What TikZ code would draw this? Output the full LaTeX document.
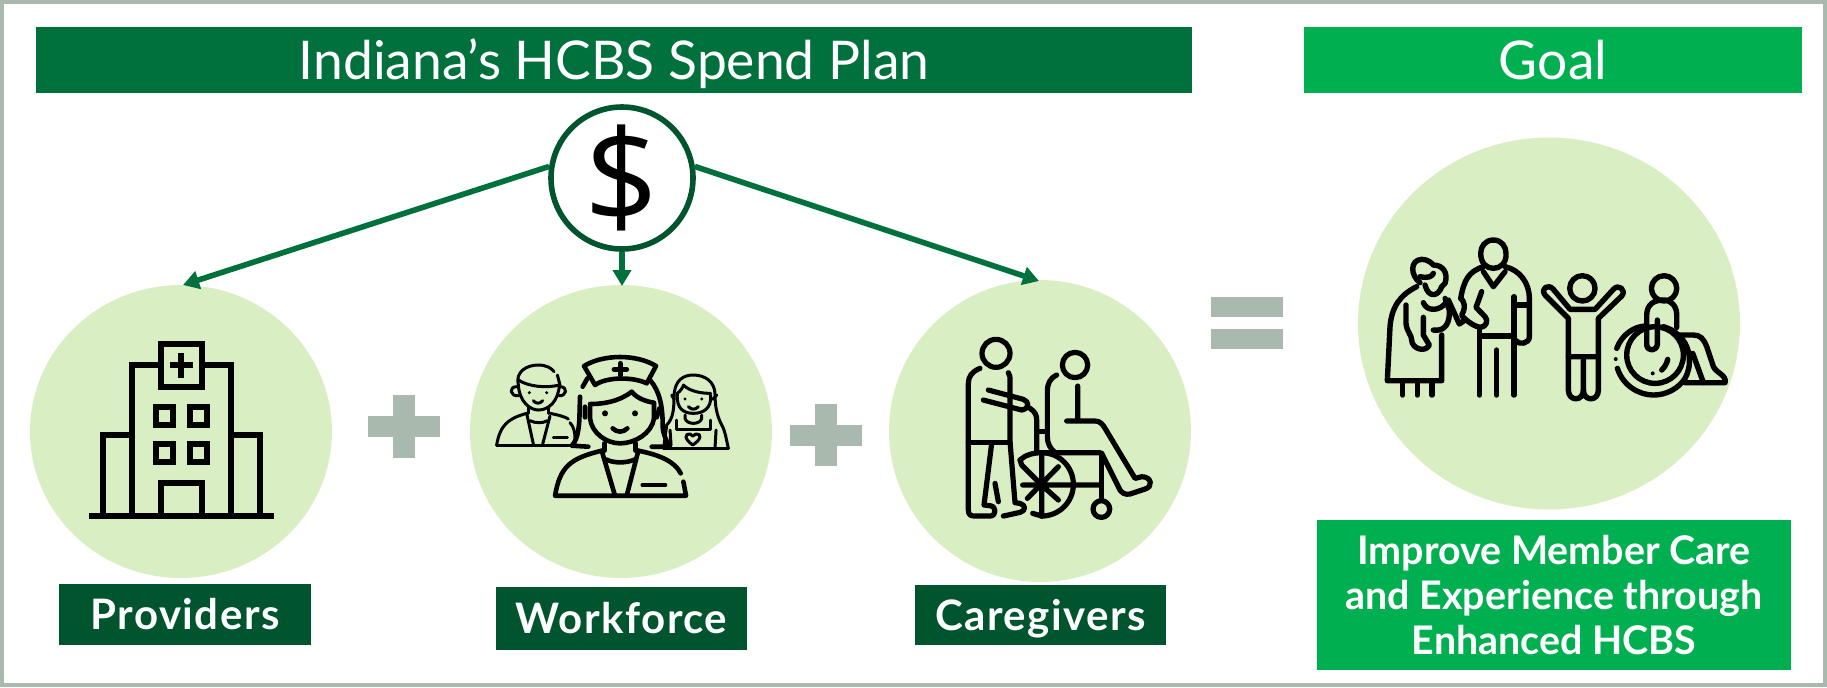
\documentclass[tikz,border=0pt]{standalone}
\usepackage{fontspec}
\setmainfont{Lato}
\newfontfamily\dollarfont{Open Sans}
\definecolor{bord}{HTML}{A9B9AD}
\definecolor{titleg}{HTML}{00713D}
\definecolor{goalg}{HTML}{00B050}
\definecolor{darkg}{HTML}{00552E}
\definecolor{lightg}{HTML}{DAEEC3}
\tikzset{
 blob/.style={ellipse,fill=lightg,inner sep=0pt},
 titlebar/.style={fill=titleg,text=white,inner sep=0pt,text height=19.5pt,text depth=0pt,font=\fontsize{26.7}{30}\selectfont},
 goalbar/.style={fill=goalg,text=white,inner sep=0pt,text height=19.5pt,text depth=0pt,font=\fontsize{26.7}{30}\selectfont},
 labelbox/.style={fill=darkg,text=white,inner sep=0pt,text height=15pt,text depth=0pt,font=\fontsize{21}{24}\bfseries\addfontfeature{LetterSpace=3.5}\selectfont},
 conn/.style={draw=titleg,line width=2.8pt,-{Triangle[length=8pt,width=9pt]}},
 icon/.style={line width=#1,line cap=round,line join=round,draw=black},
 op/.style={fill=bord,inner sep=0pt},
}
\usetikzlibrary{arrows.meta,shapes.geometric}
\begin{document}
\begin{tikzpicture}[x=0.5pt,y=-0.5pt]
\useasboundingbox (0,0) rectangle (1827,687);
\node[draw=bord,line width=2pt,minimum width=911.5pt,minimum height=341.5pt,inner sep=0pt,anchor=center] (frame) at (913.5,343.5) {};
\node[titlebar,minimum width=578pt,minimum height=33pt] (title) at (614,60) {Indiana’s HCBS Spend Plan};
\node[goalbar,minimum width=249pt,minimum height=33pt] (goal) at (1553,60) {Goal};
\node[blob,minimum width=151pt,minimum height=146.5pt] (prov) at (181,431.5) {};
\node[blob,minimum width=151pt,minimum height=146.5pt] (work) at (621,431.5) {};
\node[blob,minimum width=151pt,minimum height=151pt] (care) at (1040,431) {};
\node[blob,minimum width=191pt,minimum height=186pt] (gcirc) at (1549,323.5) {};
\node[circle,draw=darkg,fill=white,line width=2.8pt,minimum size=71pt,inner sep=0pt,font=\dollarfont\fontsize{65}{70}\selectfont] (dollar) at (622,178) {\$};
\coordinate (tipL) at (183,285);
\coordinate (tipM) at (622,286);
\coordinate (tipR) at (1039,281);
\draw[conn] (dollar.171) -- (tipL);
\draw[conn] (dollar.south) -- (tipM);
\draw[conn] (dollar.9) -- (tipR);
\node[labelbox,minimum width=126pt,minimum height=30.5pt] (lprov) at (185,614.5) {Providers};
\node[labelbox,minimum width=125.5pt,minimum height=31.5pt] (lwork) at (621.5,618) {Workforce};
\node[labelbox,minimum width=125.5pt,minimum height=30pt] (lcare) at (1040.5,615) {Caregivers};
\node[fill=goalg,text=white,minimum width=237pt,minimum height=75pt,inner sep=0pt,align=center,font=\fontsize{19.7}{22.5}\bfseries\selectfont] (lgoal) at (1554,595) {Improve Member Care\\and Experience through\\Enhanced HCBS};
\node[op,minimum width=36pt,minimum height=10.5pt] (p1a) at (404,426) {};
\node[op,minimum width=11pt,minimum height=31.5pt] (p1b) at (404,426) {};
\node[op,minimum width=36pt,minimum height=10.5pt] (p2a) at (826,435) {};
\node[op,minimum width=11pt,minimum height=31pt] (p2b) at (826,435) {};
\node[op,minimum width=36pt,minimum height=10pt] (e1) at (1247,307) {};
\node[op,minimum width=36pt,minimum height=10pt] (e2) at (1247,339) {};
% hospital
\begin{scope}[shift={(60,300)},x=0.1667pt,y=-0.1667pt,icon=3pt,line cap=butt,line join=miter]
\draw (304,132) rectangle (425,260);
\draw[line width=3pt] (330,196)--(399,196) (364,160)--(364,233);
\draw (217,640)--(217,195)--(304,195) (425,195)--(512,195)--(512,640);
\draw (130,640)--(130,404)--(217,404) (512,404)--(599,404)--(599,640);
\draw (287,322) rectangle (338,376) (391,322) rectangle (442,376) (287,431) rectangle (338,485) (391,431) rectangle (442,485);
\draw (304,640)--(304,549)--(425,549)--(425,640);
\draw[line width=3pt] (87,649)--(642,649);
\end{scope}
% workforce
\begin{scope}[shift={(470,330)},x=0.1667pt,y=-0.1667pt,icon=2.3pt]
\draw (342,108) .. controls (400,72) and (500,72) .. (558,108) -- (530,160) .. controls (490,140) and (410,140) .. (375,165) -- cycle;
\draw[line width=2.4pt] (432,118)--(470,118) (451,100)--(451,136);
\draw (338,170)--(352,145) (330,200)--(328,270) .. controls (326,300) and (322,330) .. (305,347) -- (355,350);
\draw (540,150) .. controls (570,185) and (578,230) .. (578,290) .. controls (578,310) and (590,335) .. (600,350) -- (545,350);
\draw (360,230) -- (360,265) .. controls (365,310) and (410,340) .. (450,340) .. controls (495,340) and (545,310) .. (552,265) -- (552,220);
\draw (360,222) .. controls (420,222) and (460,205) .. (485,185) .. controls (500,205) and (530,215) .. (552,218);
\draw (345,230)--(345,262) (568,235)--(560,262);
\fill (405,250) circle (9) (495,250) circle (9);
\draw (428,295) .. controls (440,308) and (460,308) .. (472,295);
\draw (403,340)--(403,362) (497,340)--(497,362);
\draw (395,362)--(435,497) (505,362)--(470,497);
\draw (408,388) .. controls (430,400) and (470,400) .. (495,388);
\draw (395,362) .. controls (300,385) and (270,410) .. (255,497) -- (648,497) -- (640,455);
\draw (505,362) .. controls (570,375) and (615,395) .. (632,430);
\draw (518,465)--(585,465);
% left man
\begin{scope}[line width=1.5pt]
\draw (80,345)--(300,345);
\draw (80,345) .. controls (90,285) and (115,265) .. (170,250);
\draw (240,250) .. controls (265,255) and (285,260) .. (295,267);
\draw (300,278) .. controls (312,290) and (315,310) .. (315,325);
\draw (170,250)--(190,342) (240,258)--(218,342);
\draw (180,272) .. controls (195,280) and (220,280) .. (232,272);
\draw (250,322)--(292,322);
\draw (175,232)--(175,250) (235,232)--(235,250);
\draw (145,165) .. controls (148,215) and (180,240) .. (205,240) .. controls (235,240) and (265,215) .. (268,165);
\draw (145,165) .. controls (135,125) and (170,105) .. (205,105) .. controls (230,105) and (245,115) .. (252,125);
\draw (262,135)--(270,165);
\draw (145,150) .. controls (175,170) and (230,175) .. (268,165);
\draw (140,170) .. controls (115,170) and (120,200) .. (145,197) (270,170) .. controls (295,170) and (290,200) .. (266,197);
\fill (178,188) circle (5) (230,188) circle (5);
\draw (190,212) .. controls (198,222) and (210,222) .. (218,212);
% right woman
\draw (580,355)--(775,355);
\draw (612,195) .. controls (615,150) and (640,135) .. (670,135) .. controls (705,135) and (735,155) .. (735,195) .. controls (735,240) and (745,265) .. (755,285) .. controls (765,300) and (770,335) .. (775,355);
\draw (622,190) .. controls (618,235) and (640,250) .. (670,250) .. controls (700,250) and (725,235) .. (722,195);
\draw (622,190) .. controls (640,175) and (640,165) .. (640,165) .. controls (660,185) and (695,190) .. (722,190);
\draw (605,195)--(612,208) (740,195)--(728,208);
\draw (612,195) .. controls (612,235) and (610,265) .. (590,285) -- (582,345);
\fill (645,207) circle (5) (695,207) circle (5);
\draw (655,230) .. controls (665,240) and (675,240) .. (685,230);
\draw (618,270)--(618,298)--(720,298)--(720,270);
\draw (645,255)--(645,265) .. controls (650,285) and (690,285) .. (695,265)--(695,255);
\draw (668,345) .. controls (640,325) and (645,310) .. (660,312) -- (668,318) -- (678,312) .. controls (695,310) and (695,328) .. (668,345);
\draw (738,300)--(735,352) (600,300)--(603,345);
\end{scope}
\end{scope}
% caregivers
\begin{scope}[shift={(940,320)},x=0.1667pt,y=-0.1667pt,icon=2.6pt]
\draw (168,100) circle (42);
\draw (120,145) .. controls (95,155) and (85,170) .. (85,190) -- (85,570) .. controls (85,585) and (92,588) .. (105,588) -- (150,588) .. controls (170,588) and (170,558) .. (150,557) -- (132,555) -- (155,370);
\draw (205,158) .. controls (210,165) and (210,170) .. (210,185) -- (210,365) -- (225,548) -- (240,550) .. controls (258,555) and (258,572) .. (240,577) -- (190,588);
\draw (85,367)--(210,367);
\draw (165,490)--(175,545);
\draw (145,210)--(250,238) .. controls (268,245) and (270,265) .. (245,270) -- (130,240);
\draw (270,265) .. controls (285,275) and (290,285) .. (290,300) -- (290,395);
\draw (295,335)--(322,335);
\draw (405,135) circle (38);
\draw (350,165) .. controls (330,175) and (322,190) .. (322,215) -- (322,350) .. controls (322,370) and (330,385) .. (345,398);
\draw (240,420) .. controls (255,405) and (280,398) .. (305,398) -- (480,398);
\draw (305,398) arc[start angle=-90,end angle=90,radius=95];
\draw (305,588)--(278,580);
\draw (240,420) -- (245,435) -- (305,495);
\draw (305,400)--(305,588) (248,495)--(480,495) (262,535)--(355,440) (305,495)--(355,540);
\fill (305,495) circle (16);
\draw (413,198)--(413,300) (380,303)--(465,303) .. controls (480,303) and (487,312) .. (495,325) -- (585,475) -- (605,470) .. controls (635,470) and (640,500) .. (615,507) -- (570,522) .. controls (555,525) and (545,518) .. (540,510) -- (485,400);
\draw (485,400)--(485,540);
\draw (484,567) circle (25);
\end{scope}
% goal people
\begin{scope}[shift={(1370,220)},x=0.1667pt,y=-0.1667pt,icon=2.7pt]
% elder
\draw (150,188) .. controls (120,165) and (120,120) .. (155,118) .. controls (175,118) and (185,130) .. (190,135) .. controls (220,135) and (235,160) .. (225,190) -- (215,200);
\draw (150,170) .. controls (175,175) and (185,170) .. (190,160);
\draw (165,195) .. controls (175,235) and (205,230) .. (215,200);
\draw (140,200) .. controls (90,225) and (65,260) .. (60,320) -- (52,482) -- (215,482) -- (215,345);
\draw (98,485)--(98,525) (142,485)--(142,525) (186,485)--(186,525);
\draw (108,255)--(108,310) .. controls (110,335) and (125,345) .. (125,360) .. controls (125,385) and (165,400) .. (178,375) -- (160,345) -- (160,292);
\draw (160,248) .. controls (170,275) and (210,275) .. (230,245);
\draw (190,330) .. controls (225,335) and (240,310) .. (238,270) -- (225,235);
\draw (235,240) -- (268,312) -- (285,300);
% adult
\draw (370,60) .. controls (345,60) and (332,80) .. (332,100) .. controls (332,130) and (350,145) .. (370,145) .. controls (390,145) and (410,130) .. (408,100) .. controls (408,80) and (395,60) .. (370,60);
\draw (340,155)--(370,200)--(405,155);
\draw (340,140) .. controls (295,155) and (282,180) .. (272,235);
\draw (405,140) .. controls (450,150) and (478,190) .. (478,235) -- (478,350) .. controls (478,372) and (445,375) .. (438,362);
\draw (432,255)--(478,255) (432,230)--(432,525);
\draw (328,325)--(328,525) (380,390)--(380,525) (335,348)--(432,348);
\draw (335,215)--(318,262) -- (345,290) .. controls (355,300) and (350,320) .. (332,322) .. controls (310,320) and (280,295) .. (275,285) .. controls (290,260) and (280,240) .. (272,235);
% child
\draw (637,205) circle (38);
\draw (595,410) -- (595,295) -- (525,225) .. controls (510,205) and (535,190) .. (550,208) -- (600,268) -- (675,268) -- (730,208) .. controls (745,190) and (770,210) .. (755,228) -- (685,295) -- (685,410) -- cycle;
\draw (595,410) -- (595,510) .. controls (595,545) and (640,545) .. (640,510) -- (640,420);
\draw (685,410) -- (685,510) .. controls (685,545) and (640,545) .. (640,510);
% wheelchair person
\draw (882,205) circle (38);
\draw (830,375) -- (830,285) .. controls (830,255) and (850,240) .. (880,240) .. controls (905,240) and (920,260) .. (920,285) -- (920,322);
\draw (862,300) -- (862,372) .. controls (860,395) and (832,395) .. (830,375);
\draw (855,405) circle (85);
\draw (740,385) .. controls (755,345) and (790,320) .. (825,318);
\draw (742,445) .. controls (760,500) and (810,525) .. (850,525) .. controls (890,525) and (925,505) .. (945,475) .. controls (965,440) and (965,380) .. (925,345) .. controls (910,330) and (895,325) .. (880,320);
\fill (737,417) circle (6) (848,460) circle (6);
\draw (875,450) .. controls (885,440) and (890,430) .. (893,418);
\draw (925,345) -- (970,345) .. controls (990,345) and (1000,355) .. (1010,380) -- (1030,440) .. controls (1040,460) and (1070,465) .. (1065,488) -- (945,488);
\draw (968,400)--(1000,488);
\end{scope}
\end{tikzpicture}
\end{document}
